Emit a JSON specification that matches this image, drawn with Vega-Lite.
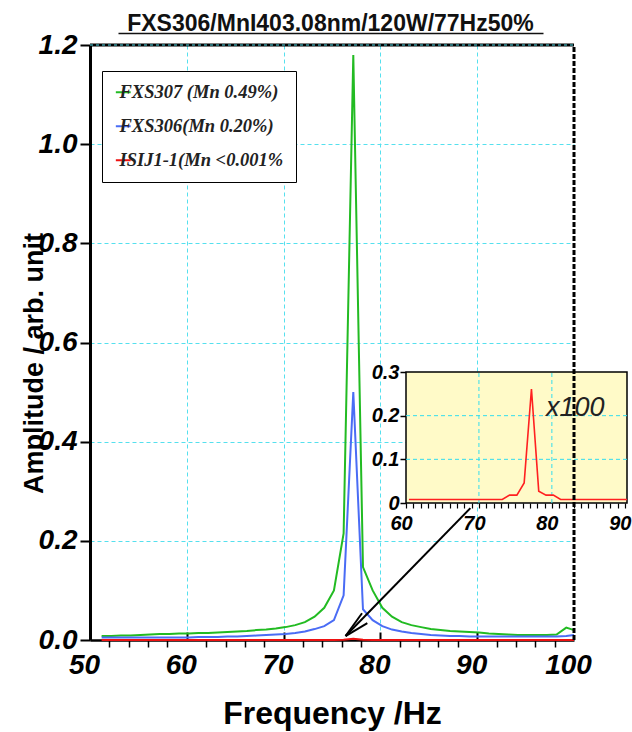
{
  "$schema": "https://vega.github.io/schema/vega-lite/v6.json",
  "width": 484,
  "height": 595,
  "autosize": {"type": "none"},
  "padding": {"left": 90, "top": 45, "right": 58, "bottom": 92},
  "background": "white",
  "config": {
    "view": {"stroke": null},
    "axis": {"labelFont": "Liberation Sans", "titleFont": "Liberation Sans", "labelColor": "#000", "tickColor": "#000", "domainColor": "#000", "titleColor": "#000", "labelFlush": false, "labelOverlap": false}
  },
  "datasets": {
    "main": [
      {"f":51.2,"a":0.008,"s":"g"},{"f":52.2,"a":0.008,"s":"g"},{"f":53.2,"a":0.009,"s":"g"},{"f":54.2,"a":0.009,"s":"g"},{"f":55.2,"a":0.010,"s":"g"},{"f":56.2,"a":0.011,"s":"g"},{"f":57.2,"a":0.012,"s":"g"},{"f":58.2,"a":0.012,"s":"g"},{"f":59.2,"a":0.013,"s":"g"},{"f":60.2,"a":0.013,"s":"g"},
      {"f":61.2,"a":0.014,"s":"g"},{"f":62.2,"a":0.014,"s":"g"},{"f":63.2,"a":0.015,"s":"g"},{"f":64.2,"a":0.016,"s":"g"},{"f":65.2,"a":0.017,"s":"g"},{"f":66.2,"a":0.018,"s":"g"},{"f":67.2,"a":0.020,"s":"g"},{"f":68.2,"a":0.021,"s":"g"},{"f":69.2,"a":0.023,"s":"g"},{"f":70.2,"a":0.026,"s":"g"},
      {"f":71.2,"a":0.030,"s":"g"},{"f":72.2,"a":0.036,"s":"g"},{"f":73.2,"a":0.047,"s":"g"},{"f":74.2,"a":0.065,"s":"g"},{"f":75.2,"a":0.10,"s":"g"},{"f":76.2,"a":0.215,"s":"g"},{"f":77.2,"a":1.18,"s":"g"},{"f":78.2,"a":0.147,"s":"g"},{"f":79.2,"a":0.10,"s":"g"},{"f":80.2,"a":0.065,"s":"g"},
      {"f":81.2,"a":0.047,"s":"g"},{"f":82.2,"a":0.036,"s":"g"},{"f":83.2,"a":0.030,"s":"g"},{"f":84.2,"a":0.026,"s":"g"},{"f":85.2,"a":0.022,"s":"g"},{"f":86.2,"a":0.020,"s":"g"},{"f":87.2,"a":0.018,"s":"g"},{"f":88.2,"a":0.017,"s":"g"},{"f":89.2,"a":0.016,"s":"g"},{"f":90.2,"a":0.015,"s":"g"},
      {"f":91.2,"a":0.013,"s":"g"},{"f":92.2,"a":0.012,"s":"g"},{"f":93.2,"a":0.011,"s":"g"},{"f":94.2,"a":0.010,"s":"g"},{"f":95.2,"a":0.010,"s":"g"},{"f":96.2,"a":0.010,"s":"g"},{"f":97.2,"a":0.010,"s":"g"},{"f":98.2,"a":0.011,"s":"g"},{"f":99.2,"a":0.025,"s":"g"},{"f":100,"a":0.020,"s":"g"},
      {"f":51.2,"a":0.005,"s":"b"},{"f":52.2,"a":0.005,"s":"b"},{"f":53.2,"a":0.005,"s":"b"},{"f":54.2,"a":0.005,"s":"b"},{"f":55.2,"a":0.005,"s":"b"},{"f":56.2,"a":0.005,"s":"b"},{"f":57.2,"a":0.005,"s":"b"},{"f":58.2,"a":0.005,"s":"b"},{"f":59.2,"a":0.005,"s":"b"},{"f":60.2,"a":0.005,"s":"b"},
      {"f":61.2,"a":0.006,"s":"b"},{"f":62.2,"a":0.006,"s":"b"},{"f":63.2,"a":0.006,"s":"b"},{"f":64.2,"a":0.007,"s":"b"},{"f":65.2,"a":0.007,"s":"b"},{"f":66.2,"a":0.008,"s":"b"},{"f":67.2,"a":0.009,"s":"b"},{"f":68.2,"a":0.010,"s":"b"},{"f":69.2,"a":0.011,"s":"b"},{"f":70.2,"a":0.012,"s":"b"},
      {"f":71.2,"a":0.014,"s":"b"},{"f":72.2,"a":0.017,"s":"b"},{"f":73.2,"a":0.022,"s":"b"},{"f":74.2,"a":0.028,"s":"b"},{"f":75.2,"a":0.040,"s":"b"},{"f":76.2,"a":0.090,"s":"b"},{"f":77.2,"a":0.50,"s":"b"},{"f":78.2,"a":0.062,"s":"b"},{"f":79.2,"a":0.040,"s":"b"},{"f":80.2,"a":0.028,"s":"b"},
      {"f":81.2,"a":0.021,"s":"b"},{"f":82.2,"a":0.017,"s":"b"},{"f":83.2,"a":0.014,"s":"b"},{"f":84.2,"a":0.012,"s":"b"},{"f":85.2,"a":0.010,"s":"b"},{"f":86.2,"a":0.009,"s":"b"},{"f":87.2,"a":0.008,"s":"b"},{"f":88.2,"a":0.008,"s":"b"},{"f":89.2,"a":0.007,"s":"b"},{"f":90.2,"a":0.007,"s":"b"},
      {"f":91.2,"a":0.007,"s":"b"},{"f":92.2,"a":0.007,"s":"b"},{"f":93.2,"a":0.007,"s":"b"},{"f":94.2,"a":0.007,"s":"b"},{"f":95.2,"a":0.007,"s":"b"},{"f":96.2,"a":0.007,"s":"b"},{"f":97.2,"a":0.007,"s":"b"},{"f":98.2,"a":0.007,"s":"b"},{"f":99.2,"a":0.008,"s":"b"},{"f":100,"a":0.010,"s":"b"},
      {"f":51.2,"a":0.0001,"s":"r"},{"f":52.2,"a":0.0001,"s":"r"},{"f":53.2,"a":0.0001,"s":"r"},{"f":54.2,"a":0.0001,"s":"r"},{"f":55.2,"a":0.0001,"s":"r"},{"f":56.2,"a":0.0001,"s":"r"},{"f":57.2,"a":0.0001,"s":"r"},{"f":58.2,"a":0.0001,"s":"r"},{"f":59.2,"a":0.0001,"s":"r"},{"f":60.2,"a":0.0001,"s":"r"},
      {"f":61.2,"a":0.0001,"s":"r"},{"f":62.2,"a":0.0001,"s":"r"},{"f":63.2,"a":0.0001,"s":"r"},{"f":64.2,"a":0.0001,"s":"r"},{"f":65.2,"a":0.0001,"s":"r"},{"f":66.2,"a":0.0001,"s":"r"},{"f":67.2,"a":0.0001,"s":"r"},{"f":68.2,"a":0.0001,"s":"r"},{"f":69.2,"a":0.0001,"s":"r"},{"f":70.2,"a":0.0001,"s":"r"},
      {"f":71.2,"a":0.0001,"s":"r"},{"f":72.2,"a":0.0001,"s":"r"},{"f":73.2,"a":0.0001,"s":"r"},{"f":74.2,"a":0.0002,"s":"r"},{"f":75.2,"a":0.0002,"s":"r"},{"f":76.2,"a":0.0005,"s":"r"},{"f":77.2,"a":0.0026,"s":"r"},{"f":78.2,"a":0.0003,"s":"r"},{"f":79.2,"a":0.0002,"s":"r"},{"f":80.2,"a":0.0002,"s":"r"},
      {"f":81.2,"a":0.0001,"s":"r"},{"f":82.2,"a":0.0001,"s":"r"},{"f":83.2,"a":0.0001,"s":"r"},{"f":84.2,"a":0.0001,"s":"r"},{"f":85.2,"a":0.0001,"s":"r"},{"f":86.2,"a":0.0001,"s":"r"},{"f":87.2,"a":0.0001,"s":"r"},{"f":88.2,"a":0.0001,"s":"r"},{"f":89.2,"a":0.0001,"s":"r"},{"f":90.2,"a":0.0001,"s":"r"},
      {"f":91.2,"a":0.0001,"s":"r"},{"f":92.2,"a":0.0001,"s":"r"},{"f":93.2,"a":0.0001,"s":"r"},{"f":94.2,"a":0.0001,"s":"r"},{"f":95.2,"a":0.0001,"s":"r"},{"f":96.2,"a":0.0001,"s":"r"},{"f":97.2,"a":0.0001,"s":"r"},{"f":98.2,"a":0.0001,"s":"r"},{"f":99.2,"a":0.0001,"s":"r"},{"f":100,"a":0.0001,"s":"r"}
    ],
    "inset": [
      {"f":60.4,"a":0.008},{"f":61.2,"a":0.008},{"f":62.2,"a":0.008},{"f":63.2,"a":0.008},{"f":64.2,"a":0.008},{"f":65.2,"a":0.008},{"f":66.2,"a":0.008},{"f":67.2,"a":0.008},{"f":68.2,"a":0.008},{"f":69.2,"a":0.008},{"f":70.2,"a":0.008},{"f":71.2,"a":0.008},{"f":72.2,"a":0.008},{"f":73.2,"a":0.008},
      {"f":74.2,"a":0.018},{"f":75.2,"a":0.018},{"f":76.2,"a":0.046},{"f":77.2,"a":0.261},{"f":78.2,"a":0.027},{"f":79.2,"a":0.018},{"f":80.2,"a":0.018},
      {"f":81.2,"a":0.008},{"f":82.2,"a":0.008},{"f":83.2,"a":0.008},{"f":84.2,"a":0.008},{"f":85.2,"a":0.008},{"f":86.2,"a":0.008},{"f":87.2,"a":0.008},{"f":88.2,"a":0.008},{"f":89.2,"a":0.008},{"f":90.2,"a":0.008},{"f":90.3,"a":0.008}
    ]
  },
  "layer": [
    {
      "encoding": {
        "x": {"field": "f", "type": "quantitative", "scale": {"domain": [60, 90.3], "range": [316, 537], "nice": false, "zero": false},
          "axis": {"orient": "bottom", "offset": -137, "values": [60,61,62,63,64,65,66,67,68,69,70,71,72,73,74,75,76,77,78,79,80,81,82,83,84,85,86,87,88,89,90], "labelExpr": "datum.value % 10 === 0 ? datum.label : ''", "title": null, "grid": false, "domain": false, "tickSize": 5, "tickWidth": 1.2, "labelFontSize": 20, "labelFontWeight": "bold", "labelFontStyle": "italic", "labelPadding": 5, "labelOffset": -5}},
        "y": {"field": "a", "type": "quantitative", "scale": {"domain": [0, 0.3], "range": [458, 327], "nice": false},
          "axis": {"orient": "left", "offset": -316, "values": [0, 0.1, 0.2, 0.3], "format": "~g", "title": null, "grid": false, "domain": false, "tickSize": 6, "tickWidth": 1.5, "labelFontSize": 20, "labelFontWeight": "bold", "labelFontStyle": "italic", "labelPadding": 1}}
      },
      "layer": [
        {"data": {"values": [{"f": 60, "f2": 90.3, "a": 0, "a2": 0.3}]}, "mark": {"type": "rect", "fill": "#FFFAC8", "stroke": "#000", "strokeWidth": 1.5}, "encoding": {"x2": {"field": "f2"}, "y2": {"field": "a2"}}},
        {"data": {"values": [{"f": 70, "a": 0, "a2": 0.3}, {"f": 80, "a": 0, "a2": 0.3}]}, "mark": {"type": "rule", "color": "#33DDEE", "strokeDash": [4, 3], "strokeWidth": 1}, "encoding": {"y2": {"field": "a2"}}},
        {"data": {"values": [{"f": 60, "f2": 90.3, "a": 0.1}, {"f": 60, "f2": 90.3, "a": 0.2}]}, "mark": {"type": "rule", "color": "#33DDEE", "strokeDash": [4, 3], "strokeWidth": 1}, "encoding": {"x2": {"field": "f2"}}},
        {"data": {"name": "inset"}, "mark": {"type": "line", "color": "#FF2020", "strokeWidth": 1.6}, "encoding": {}},
        {"data": {"values": [{"f": 83.2, "a": 0.218, "t": "x100"}]}, "mark": {"type": "text", "font": "Liberation Sans", "fontSize": 27, "fontStyle": "italic", "color": "#222", "align": "center", "baseline": "middle"}, "encoding": {"text": {"field": "t"}}}
      ]
    },
    {
      "encoding": {
        "x": {"field": "f", "type": "quantitative", "scale": {"domain": [50, 100], "nice": false, "zero": false},
          "axis": {"orient": "bottom", "values": [50,52,54,56,58,60,62,64,66,68,70,72,74,76,78,80,82,84,86,88,90,92,94,96,98,100], "labelExpr": "datum.value % 10 === 0 ? datum.label : ''", "tickOpacity": {"condition": {"test": "datum.value % 10 === 0", "value": 0}, "value": 1}, "tickSize": 7, "tickWidth": 1.5, "domainWidth": 2.5, "grid": false, "labelFontSize": 28, "labelFontWeight": "bold", "labelFontStyle": "italic", "labelPadding": 4, "labelOffset": -6, "title": "Frequency /Hz", "titleFontSize": 32, "titleFontWeight": "bold", "titleX": 242, "titleY": 83, "titleAlign": "center", "titleBaseline": "alphabetic"}},
        "y": {"field": "a", "type": "quantitative", "scale": {"domain": [0, 1.2], "nice": false},
          "axis": {"orient": "left", "values": [0, 0.2, 0.4, 0.6, 0.8, 1.0, 1.2], "format": ".1f", "tickSize": 10, "tickWidth": 2, "domainWidth": 3, "grid": false, "labelFontSize": 28, "labelFontWeight": "bold", "labelFontStyle": "italic", "labelPadding": 3, "title": "Amplitude / arb. unit", "titleFontSize": 27, "titleFontWeight": "bold", "titleAngle": -90, "titleX": -56, "titleY": 318, "titleAlign": "center", "titleBaseline": "middle"}}
      },
      "layer": [
        {"data": {"name": "main"}, "mark": {"type": "line", "strokeWidth": 2},
          "encoding": {"color": {"field": "s", "type": "nominal", "scale": {"domain": ["g", "b", "r"], "range": ["#22BB22", "#4A6CF5", "#EE1111"]},
            "legend": {"orient": "none", "legendX": 12, "legendY": 26, "title": null, "fillColor": "white", "strokeColor": "#000", "padding": 12, "labelFont": "Liberation Serif", "labelFontSize": 18.5, "labelFontStyle": "italic", "labelFontWeight": "bold", "labelColor": "#222", "symbolType": "stroke", "symbolStrokeWidth": 2, "symbolSize": 220, "rowPadding": 15, "labelOffset": -13, "labelLimit": 400,
              "labelExpr": "datum.value === 'g' ? 'FXS307 (Mn 0.49%)' : datum.value === 'b' ? 'FXS306(Mn 0.20%)' : 'ISIJ1-1(Mn <0.001%'"}}}},
        {"data": {"values": [{"f": 89.3, "a": 0.266, "f2": 76.4, "a2": 0.008}, {"f": 76.4, "a": 0.008, "f2": 78.1, "a2": 0.054}, {"f": 76.4, "a": 0.008, "f2": 78.65, "a2": 0.034}]},
          "mark": {"type": "rule", "color": "#000", "strokeWidth": 2}, "encoding": {"x2": {"field": "f2"}, "y2": {"field": "a2"}}}
      ]
    },
    {
      "encoding": {
        "x": {"field": "f", "type": "quantitative", "scale": {"domain": [50, 100], "nice": false, "zero": false},
          "axis": {"orient": "bottom", "values": [60, 70, 80, 90], "tickSize": -8, "tickWidth": 2, "labels": false, "domain": false, "grid": true, "gridColor": "#55E0EE", "gridDash": [4, 3], "gridWidth": 1, "title": null}},
        "y": {"field": "a", "type": "quantitative", "scale": {"domain": [0, 1.2], "nice": false},
          "axis": {"orient": "left", "values": [0.2, 0.4, 0.6, 0.8, 1.0], "ticks": false, "labels": false, "domain": false, "grid": true, "gridColor": "#55E0EE", "gridDash": [4, 3], "gridWidth": 1, "title": null}}
      },
      "layer": [
        {"data": {"values": [{"f": 50, "f2": 100, "a": 1.2}]}, "mark": {"type": "rule", "color": "#000", "strokeWidth": 3}, "encoding": {"x2": {"field": "f2"}}},
        {"data": {"values": [{"f": 50, "f2": 100, "a": 1.2}]}, "mark": {"type": "rule", "color": "#55E0EE", "strokeWidth": 1, "strokeDash": [3, 3]}, "encoding": {"x2": {"field": "f2"}}},
        {"data": {"values": [{"f": 100, "a": 0, "a2": 1.2}]}, "mark": {"type": "rule", "color": "#000", "strokeWidth": 3, "strokeDash": [5, 2]}, "encoding": {"y2": {"field": "a2"}}}
      ]
    },
    {
      "data": {"values": [{"f": 50}]},
      "mark": {"type": "rule", "opacity": 0},
      "encoding": {
        "x": {"field": "f", "type": "quantitative", "scale": {"domain": [50, 100], "range": [28, 453], "nice": false, "zero": false},
          "axis": {"orient": "top", "offset": 12, "ticks": false, "labels": false, "grid": false, "domain": true, "domainWidth": 1.5, "domainColor": "#111",
            "title": "FXS306/MnI403.08nm/120W/77Hz50%", "titleFontSize": 23, "titleFontWeight": "bold", "titleColor": "#111", "titleX": 240, "titleY": -3, "titleAlign": "center", "titleBaseline": "alphabetic"}}
      }
    }
  ],
  "resolve": {"scale": {"x": "independent", "y": "independent", "color": "independent"}}
}
